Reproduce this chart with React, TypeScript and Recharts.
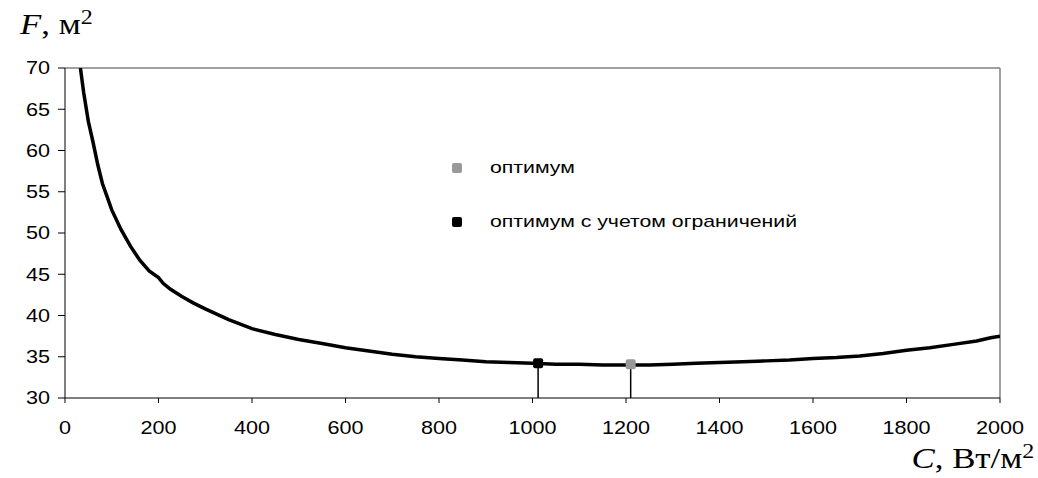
import React from 'react';
import {
  ComposedChart,
  Line,
  Scatter,
  XAxis,
  YAxis,
  ReferenceLine,
} from 'recharts';

// specific heat flux C, W/m2
const cValues = [
  33, 40, 50, 60, 70, 80, 90, 100, 120, 140, 160, 180, 200, 210, 225, 250, 275,
  300, 350, 400, 450, 500, 550, 600, 650, 700, 750, 800, 850, 900, 950, 1000,
  1050, 1100, 1150, 1200, 1250, 1300, 1350, 1400, 1450, 1500, 1550, 1600, 1650,
  1700, 1750, 1800, 1850, 1900, 1950, 1980, 2000,
];
// surface area F, m2
const fValues = [
  70, 67, 63.5, 61, 58.3, 56, 54.4, 52.8, 50.4, 48.4, 46.7, 45.4, 44.6, 43.9,
  43.2, 42.3, 41.5, 40.8, 39.5, 38.4, 37.7, 37.1, 36.6, 36.1, 35.7, 35.3, 35.0,
  34.8, 34.6, 34.4, 34.3, 34.2, 34.1, 34.1, 34.0, 34.0, 34.0, 34.1, 34.2, 34.3,
  34.4, 34.5, 34.6, 34.8, 34.9, 35.1, 35.4, 35.8, 36.1, 36.5, 36.9, 37.3, 37.5,
];

const optimum = [{ c: 1210, f: 34.1 }];
const constrained = [{ c: 1012, f: 34.2 }];

const xTicks = [0, 200, 400, 600, 800, 1000, 1200, 1400, 1600, 1800, 2000];
const yTicks = [30, 35, 40, 45, 50, 55, 60, 65, 70];

const curve = cValues.map((c, i) => ({ c, f: fValues[i] }));

const SX = 1.2;
const tickFont = "'Liberation Sans', Arial, sans-serif";

const XTick = (props: any) => {
  const { x, y, payload } = props;
  return (
    <text
      transform={`translate(${x},${y}) scale(${SX},1)`}
      textAnchor="middle"
      dy="0.71em"
      fontFamily={tickFont}
      fontSize={18}
      fill="#000"
    >
      {payload.value}
    </text>
  );
};

const YTick = (props: any) => {
  const { x, y, payload } = props;
  return (
    <text
      transform={`translate(${x},${y}) scale(${SX},1)`}
      textAnchor="end"
      dy="0.355em"
      fontFamily={tickFont}
      fontSize={18}
      fill="#000"
    >
      {payload.value}
    </text>
  );
};

const Marker = (props: any) => {
  const { cx, cy, fill } = props;
  return <rect x={cx - 5} y={cy - 5} width={10} height={10} rx={2} fill={fill} />;
};

const legendText: React.CSSProperties = {
  position: 'absolute',
  fontFamily: tickFont,
  fontSize: 17,
  lineHeight: '20px',
  transform: 'scaleX(1.25)',
  transformOrigin: 'left center',
  whiteSpace: 'nowrap',
  color: '#000',
};

const titleStyle: React.CSSProperties = {
  position: 'absolute',
  fontFamily: "'Liberation Serif', 'Times New Roman', serif",
  fontSize: 29,
  lineHeight: 1,
  transform: 'scaleX(1.2)',
  whiteSpace: 'nowrap',
  color: '#000',
};

const supStyle: React.CSSProperties = {
  fontSize: 20,
  verticalAlign: 'top',
  lineHeight: 1,
  position: 'relative',
  top: -3,
};

export default function App() {
  return (
    <div style={{ position: 'absolute', left: 0, top: 0, width: 1038, height: 478, background: '#fff' }}>
      <ComposedChart
        width={1038}
        height={478}
        margin={{ top: 68, right: 38, bottom: 0, left: 0 }}
      >
        <XAxis
          dataKey="c"
          type="number"
          domain={[0, 2000]}
          ticks={xTicks}
          allowDataOverflow
          tickSize={5}
          tickMargin={18}
          height={80}
          stroke="#000"
          tick={<XTick />}
        />
        <YAxis
          dataKey="f"
          type="number"
          domain={[30, 70]}
          ticks={yTicks}
          allowDataOverflow
          tickSize={7}
          tickMargin={8}
          width={65}
          stroke="#000"
          tick={<YTick />}
        />
        <ReferenceLine y={70} stroke="#808080" strokeWidth={1.5} />
        <ReferenceLine
          segment={[{ x: 2000, y: 70 }, { x: 2000, y: 30 }]}
          stroke="#808080"
          strokeWidth={1.5}
        />
        <Line
          data={curve}
          dataKey="f"
          type="linear"
          stroke="#000"
          strokeWidth={3.5}
          dot={false}
          isAnimationActive={false}
        />
        <ReferenceLine
          segment={[{ x: constrained[0].c, y: 30 }, { x: constrained[0].c, y: constrained[0].f }]}
          stroke="#000"
          strokeWidth={1.5}
        />
        <ReferenceLine
          segment={[{ x: optimum[0].c, y: 30 }, { x: optimum[0].c, y: optimum[0].f }]}
          stroke="#000"
          strokeWidth={1.5}
        />
        <Scatter
          data={constrained}
          dataKey="f"
          fill="#000"
          shape={<Marker />}
          isAnimationActive={false}
        />
        <Scatter
          data={optimum}
          dataKey="f"
          fill="#999999"
          shape={<Marker />}
          isAnimationActive={false}
        />
      </ComposedChart>

      {/* legend */}
      <div style={{ position: 'absolute', left: 452, top: 163, width: 10, height: 10, borderRadius: 2, background: '#999999' }} />
      <div style={{ ...legendText, left: 490, top: 158 }}>оптимум</div>
      <div style={{ position: 'absolute', left: 452, top: 217, width: 10, height: 10, borderRadius: 2, background: '#000' }} />
      <div style={{ ...legendText, left: 490, top: 212 }}>оптимум с учетом ограничений</div>

      {/* axis titles */}
      <div style={{ ...titleStyle, left: 20, top: 10, transformOrigin: 'left top' }}>
        <i>F</i>, м<sup style={supStyle}>2</sup>
      </div>
      <div style={{ ...titleStyle, right: 4, top: 444, transformOrigin: 'right top' }}>
        <i>C</i>, Вт/м<sup style={supStyle}>2</sup>
      </div>
    </div>
  );
}
